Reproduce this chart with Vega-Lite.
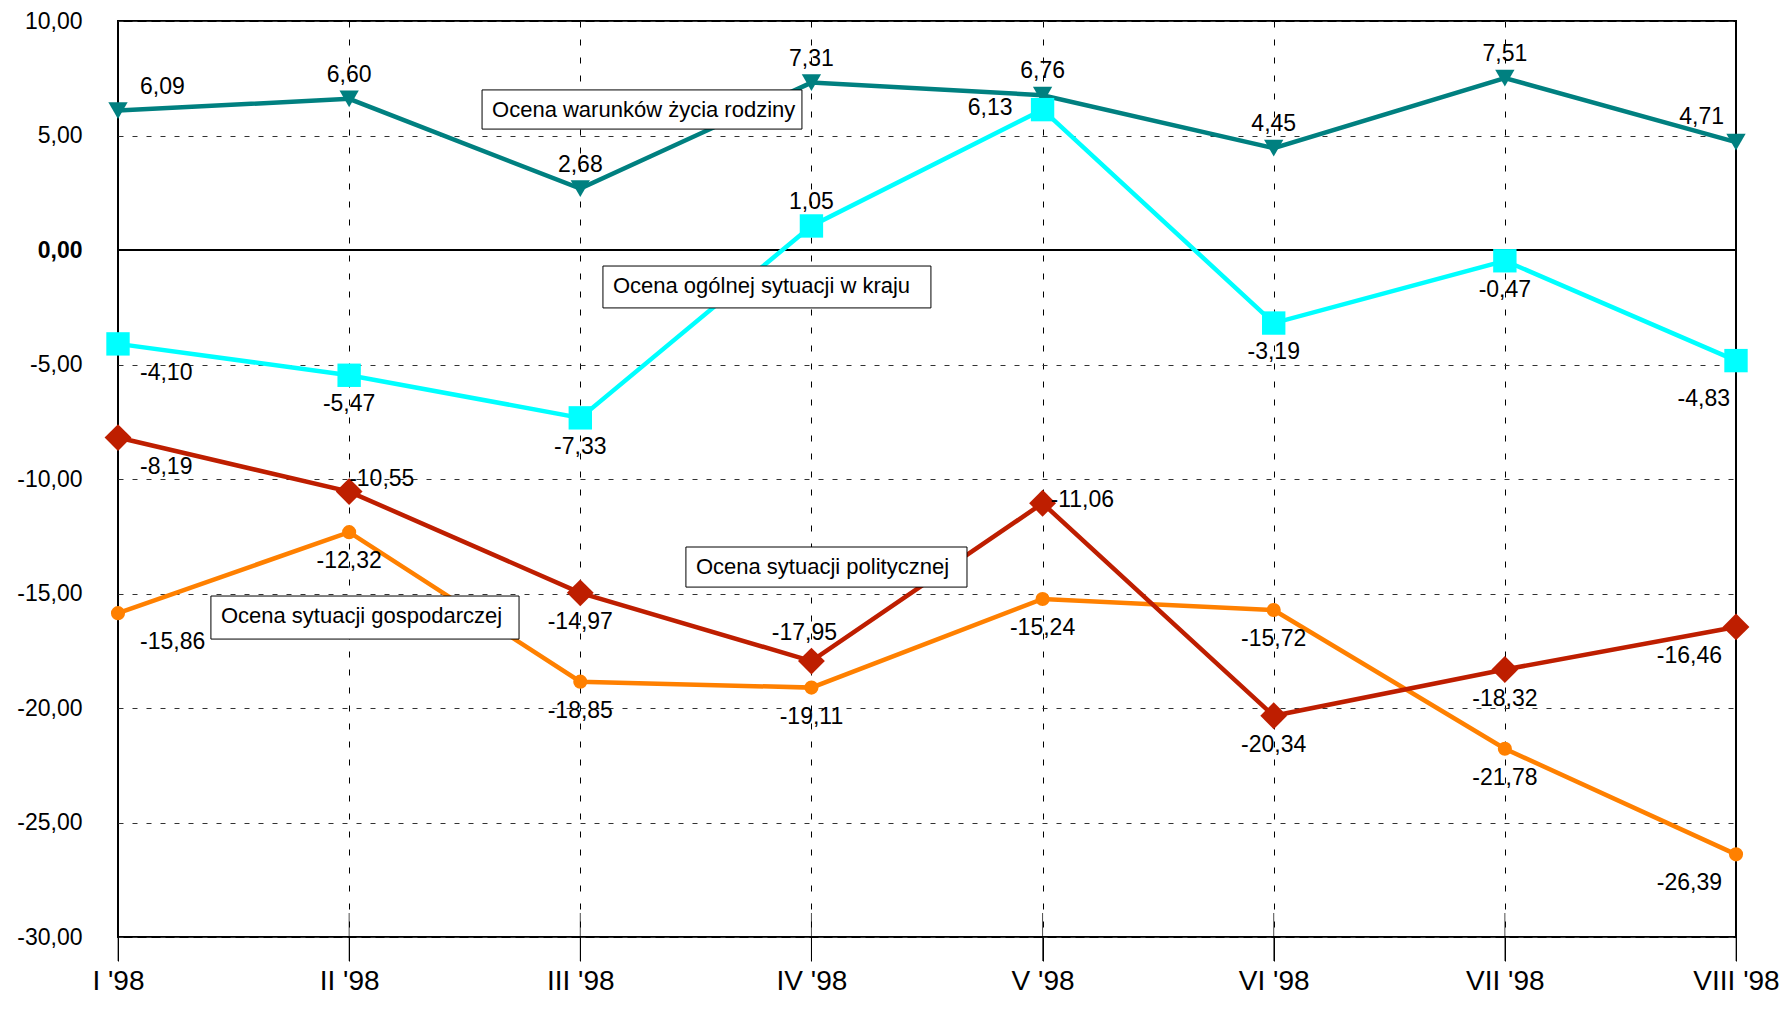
{
  "$schema": "https://vega.github.io/schema/vega-lite/v6.json",
  "width": 1618,
  "height": 916,
  "autosize": {"type": "none"},
  "padding": {"left": 118, "top": 21, "right": 51, "bottom": 77},
  "background": "white",
  "config": {
    "locale": {"number": {"decimal": ",", "thousands": " ", "grouping": [3], "currency": ["", ""], "minus": "-"}},
    "view": {"stroke": "black", "strokeWidth": 2},
    "font": "Liberation Sans",
    "scale": {"pointPadding": 0},
    "axis": {"labelFont": "Liberation Sans", "labelColor": "black"}
  },
  "datasets": {
    "dane": [
      {"seria": "Ocena sytuacji gospodarczej", "miesiac": "I '98", "wartosc": -15.86},
      {"seria": "Ocena sytuacji gospodarczej", "miesiac": "II '98", "wartosc": -12.32},
      {"seria": "Ocena sytuacji gospodarczej", "miesiac": "III '98", "wartosc": -18.85},
      {"seria": "Ocena sytuacji gospodarczej", "miesiac": "IV '98", "wartosc": -19.11},
      {"seria": "Ocena sytuacji gospodarczej", "miesiac": "V '98", "wartosc": -15.24},
      {"seria": "Ocena sytuacji gospodarczej", "miesiac": "VI '98", "wartosc": -15.72},
      {"seria": "Ocena sytuacji gospodarczej", "miesiac": "VII '98", "wartosc": -21.78},
      {"seria": "Ocena sytuacji gospodarczej", "miesiac": "VIII '98", "wartosc": -26.39},
      {"seria": "Ocena warunków życia rodziny", "miesiac": "I '98", "wartosc": 6.09},
      {"seria": "Ocena warunków życia rodziny", "miesiac": "II '98", "wartosc": 6.60},
      {"seria": "Ocena warunków życia rodziny", "miesiac": "III '98", "wartosc": 2.68},
      {"seria": "Ocena warunków życia rodziny", "miesiac": "IV '98", "wartosc": 7.31},
      {"seria": "Ocena warunków życia rodziny", "miesiac": "V '98", "wartosc": 6.76},
      {"seria": "Ocena warunków życia rodziny", "miesiac": "VI '98", "wartosc": 4.45},
      {"seria": "Ocena warunków życia rodziny", "miesiac": "VII '98", "wartosc": 7.51},
      {"seria": "Ocena warunków życia rodziny", "miesiac": "VIII '98", "wartosc": 4.71},
      {"seria": "Ocena ogólnej sytuacji w kraju", "miesiac": "I '98", "wartosc": -4.10},
      {"seria": "Ocena ogólnej sytuacji w kraju", "miesiac": "II '98", "wartosc": -5.47},
      {"seria": "Ocena ogólnej sytuacji w kraju", "miesiac": "III '98", "wartosc": -7.33},
      {"seria": "Ocena ogólnej sytuacji w kraju", "miesiac": "IV '98", "wartosc": 1.05},
      {"seria": "Ocena ogólnej sytuacji w kraju", "miesiac": "V '98", "wartosc": 6.13},
      {"seria": "Ocena ogólnej sytuacji w kraju", "miesiac": "VI '98", "wartosc": -3.19},
      {"seria": "Ocena ogólnej sytuacji w kraju", "miesiac": "VII '98", "wartosc": -0.47},
      {"seria": "Ocena ogólnej sytuacji w kraju", "miesiac": "VIII '98", "wartosc": -4.83},
      {"seria": "Ocena sytuacji politycznej", "miesiac": "I '98", "wartosc": -8.19},
      {"seria": "Ocena sytuacji politycznej", "miesiac": "II '98", "wartosc": -10.55},
      {"seria": "Ocena sytuacji politycznej", "miesiac": "III '98", "wartosc": -14.97},
      {"seria": "Ocena sytuacji politycznej", "miesiac": "IV '98", "wartosc": -17.95},
      {"seria": "Ocena sytuacji politycznej", "miesiac": "V '98", "wartosc": -11.06},
      {"seria": "Ocena sytuacji politycznej", "miesiac": "VI '98", "wartosc": -20.34},
      {"seria": "Ocena sytuacji politycznej", "miesiac": "VII '98", "wartosc": -18.32},
      {"seria": "Ocena sytuacji politycznej", "miesiac": "VIII '98", "wartosc": -16.46}
    ],
    "ramki": [
      {"tekst": "Ocena warunków życia rodziny", "x1": 1.575, "x2": 2.959, "y1": 6.99, "y2": 5.28},
      {"tekst": "Ocena ogólnej sytuacji w kraju", "x1": 2.098, "x2": 3.517, "y1": -0.70, "y2": -2.53},
      {"tekst": "Ocena sytuacji politycznej", "x1": 2.457, "x2": 3.673, "y1": -12.97, "y2": -14.72},
      {"tekst": "Ocena sytuacji gospodarczej", "x1": 0.402, "x2": 1.735, "y1": -15.11, "y2": -16.99}
    ]
  },
  "resolve": {"scale": {"x": "independent"}},
  "layer": [
    {
      "data": {"name": "dane"},
      "layer": [
        {
          "mark": {"type": "rule", "color": "black", "strokeWidth": 2},
          "encoding": {"y": {"datum": 0, "type": "quantitative"}}
        },
        {
          "mark": {"type": "line", "strokeWidth": 4.5},
          "encoding": {
            "x": {
              "field": "miesiac", "type": "ordinal", "title": null,
              "scale": {"type": "point", "domain": ["I '98", "II '98", "III '98", "IV '98", "V '98", "VI '98", "VII '98", "VIII '98"], "padding": 0},
              "axis": {"labelAngle": 0, "labelFontSize": 28, "labelPadding": 6, "tickSize": 24, "tickColor": "black", "tickWidth": 1, "domain": false, "grid": true, "gridColor": "black", "gridDash": [6, 12], "gridWidth": 1, "gridOpacity": 1}
            },
            "y": {
              "field": "wartosc", "type": "quantitative", "title": null,
              "scale": {"domain": [-30, 10], "nice": false, "zero": false},
              "axis": {"values": [-30, -25, -20, -15, -10, -5, 0, 5, 10], "format": ".2f", "labelFontSize": 23, "labelPadding": 36, "ticks": false, "domain": false, "grid": true, "gridColor": "#333333", "gridDash": [5, 9], "gridWidth": 1, "gridOpacity": 1, "labelFontWeight": {"condition": {"test": "datum.value == 0", "value": "bold"}, "value": "normal"}}
            },
            "color": {
              "field": "seria", "type": "nominal", "legend": null,
              "scale": {"domain": ["Ocena sytuacji gospodarczej", "Ocena warunków życia rodziny", "Ocena ogólnej sytuacji w kraju", "Ocena sytuacji politycznej"], "range": ["#FF8000", "#008080", "#00FFFF", "#BE1E00"]}
            }
          }
        },
        {
          "mark": {"type": "point", "filled": true, "opacity": 1},
          "encoding": {
            "x": {"field": "miesiac", "type": "ordinal"},
            "y": {"field": "wartosc", "type": "quantitative"},
            "color": {"field": "seria", "type": "nominal", "legend": null},
            "shape": {
              "field": "seria", "type": "nominal", "legend": null,
              "scale": {"domain": ["Ocena sytuacji gospodarczej", "Ocena warunków życia rodziny", "Ocena ogólnej sytuacji w kraju", "Ocena sytuacji politycznej"], "range": ["circle", "triangle-down", "square", "diamond"]}
            },
            "size": {
              "field": "seria", "type": "nominal", "legend": null,
              "scale": {"domain": ["Ocena sytuacji gospodarczej", "Ocena warunków życia rodziny", "Ocena ogólnej sytuacji w kraju", "Ocena sytuacji politycznej"], "range": [200, 720, 420, 560]}
            }
          }
        },
        {
          "transform": [{"filter": {"field": "seria", "equal": "Ocena warunków życia rodziny"}}],
          "mark": {"type": "tick", "orient": "vertical", "size": 48, "thickness": 1, "color": "black"},
          "encoding": {
            "x": {"field": "miesiac", "type": "ordinal"},
            "y": {"datum": -30, "type": "quantitative"}
          }
        },
        {
          "transform": [{"filter": {"or": [
            {"and": [{"field": "seria", "equal": "Ocena warunków życia rodziny"}, {"field": "miesiac", "oneOf": ["II '98", "III '98", "IV '98", "V '98", "VI '98", "VII '98"]}]},
            {"and": [{"field": "seria", "equal": "Ocena ogólnej sytuacji w kraju"}, {"field": "miesiac", "equal": "IV '98"}]}
          ]}}],
          "mark": {"type": "text", "align": "center", "baseline": "middle", "dy": -24, "fontSize": 23, "font": "Liberation Sans", "color": "black"},
          "encoding": {
            "x": {"field": "miesiac", "type": "ordinal"},
            "y": {"field": "wartosc", "type": "quantitative"},
            "text": {"field": "wartosc", "type": "quantitative", "format": ".2f"}
          }
        },
        {
          "transform": [{"filter": {"and": [{"field": "seria", "equal": "Ocena sytuacji politycznej"}, {"field": "miesiac", "equal": "IV '98"}]}}],
          "mark": {"type": "text", "align": "center", "baseline": "middle", "dx": -7, "dy": -28, "fontSize": 23, "font": "Liberation Sans", "color": "black"},
          "encoding": {
            "x": {"field": "miesiac", "type": "ordinal"},
            "y": {"field": "wartosc", "type": "quantitative"},
            "text": {"field": "wartosc", "type": "quantitative", "format": ".2f"}
          }
        },
        {
          "transform": [{"filter": {"or": [
            {"and": [{"field": "seria", "equal": "Ocena ogólnej sytuacji w kraju"}, {"field": "miesiac", "oneOf": ["II '98", "III '98", "VI '98", "VII '98"]}]},
            {"and": [{"field": "seria", "equal": "Ocena sytuacji politycznej"}, {"field": "miesiac", "oneOf": ["III '98", "VI '98", "VII '98"]}]},
            {"and": [{"field": "seria", "equal": "Ocena sytuacji gospodarczej"}, {"field": "miesiac", "oneOf": ["II '98", "III '98", "IV '98", "V '98", "VI '98", "VII '98"]}]}
          ]}}],
          "mark": {"type": "text", "align": "center", "baseline": "middle", "dy": 29, "fontSize": 23, "font": "Liberation Sans", "color": "black"},
          "encoding": {
            "x": {"field": "miesiac", "type": "ordinal"},
            "y": {"field": "wartosc", "type": "quantitative"},
            "text": {"field": "wartosc", "type": "quantitative", "format": ".2f"}
          }
        },
        {
          "transform": [{"filter": {"and": [{"field": "seria", "equal": "Ocena warunków życia rodziny"}, {"field": "miesiac", "equal": "I '98"}]}}],
          "mark": {"type": "text", "align": "left", "baseline": "middle", "dx": 22, "dy": -24, "fontSize": 23, "font": "Liberation Sans", "color": "black"},
          "encoding": {
            "x": {"field": "miesiac", "type": "ordinal"},
            "y": {"field": "wartosc", "type": "quantitative"},
            "text": {"field": "wartosc", "type": "quantitative", "format": ".2f"}
          }
        },
        {
          "transform": [{"filter": {"and": [{"field": "seria", "oneOf": ["Ocena ogólnej sytuacji w kraju", "Ocena sytuacji politycznej", "Ocena sytuacji gospodarczej"]}, {"field": "miesiac", "equal": "I '98"}]}}],
          "mark": {"type": "text", "align": "left", "baseline": "middle", "dx": 22, "dy": 29, "fontSize": 23, "font": "Liberation Sans", "color": "black"},
          "encoding": {
            "x": {"field": "miesiac", "type": "ordinal"},
            "y": {"field": "wartosc", "type": "quantitative"},
            "text": {"field": "wartosc", "type": "quantitative", "format": ".2f"}
          }
        },
        {
          "transform": [{"filter": {"and": [{"field": "seria", "equal": "Ocena warunków życia rodziny"}, {"field": "miesiac", "equal": "VIII '98"}]}}],
          "mark": {"type": "text", "align": "right", "baseline": "middle", "dx": -12, "dy": -25, "fontSize": 23, "font": "Liberation Sans", "color": "black"},
          "encoding": {
            "x": {"field": "miesiac", "type": "ordinal"},
            "y": {"field": "wartosc", "type": "quantitative"},
            "text": {"field": "wartosc", "type": "quantitative", "format": ".2f"}
          }
        },
        {
          "transform": [{"filter": {"and": [{"field": "seria", "oneOf": ["Ocena sytuacji politycznej", "Ocena sytuacji gospodarczej"]}, {"field": "miesiac", "equal": "VIII '98"}]}}],
          "mark": {"type": "text", "align": "right", "baseline": "middle", "dx": -14, "dy": 29, "fontSize": 23, "font": "Liberation Sans", "color": "black"},
          "encoding": {
            "x": {"field": "miesiac", "type": "ordinal"},
            "y": {"field": "wartosc", "type": "quantitative"},
            "text": {"field": "wartosc", "type": "quantitative", "format": ".2f"}
          }
        },
        {
          "transform": [{"filter": {"and": [{"field": "seria", "equal": "Ocena ogólnej sytuacji w kraju"}, {"field": "miesiac", "equal": "VIII '98"}]}}],
          "mark": {"type": "text", "align": "right", "baseline": "middle", "dx": -6, "dy": 38, "fontSize": 23, "font": "Liberation Sans", "color": "black"},
          "encoding": {
            "x": {"field": "miesiac", "type": "ordinal"},
            "y": {"field": "wartosc", "type": "quantitative"},
            "text": {"field": "wartosc", "type": "quantitative", "format": ".2f"}
          }
        },
        {
          "transform": [{"filter": {"and": [{"field": "seria", "equal": "Ocena sytuacji politycznej"}, {"field": "miesiac", "equal": "II '98"}]}}],
          "mark": {"type": "text", "align": "left", "baseline": "middle", "dx": 0, "dy": -13, "fontSize": 23, "font": "Liberation Sans", "color": "black"},
          "encoding": {
            "x": {"field": "miesiac", "type": "ordinal"},
            "y": {"field": "wartosc", "type": "quantitative"},
            "text": {"field": "wartosc", "type": "quantitative", "format": ".2f"}
          }
        },
        {
          "transform": [{"filter": {"and": [{"field": "seria", "equal": "Ocena sytuacji politycznej"}, {"field": "miesiac", "equal": "V '98"}]}}],
          "mark": {"type": "text", "align": "left", "baseline": "middle", "dx": 8, "dy": -3, "fontSize": 23, "font": "Liberation Sans", "color": "black"},
          "encoding": {
            "x": {"field": "miesiac", "type": "ordinal"},
            "y": {"field": "wartosc", "type": "quantitative"},
            "text": {"field": "wartosc", "type": "quantitative", "format": ".2f"}
          }
        },
        {
          "transform": [{"filter": {"and": [{"field": "seria", "equal": "Ocena ogólnej sytuacji w kraju"}, {"field": "miesiac", "equal": "V '98"}]}}],
          "mark": {"type": "text", "align": "right", "baseline": "middle", "dx": -30, "dy": -2, "fontSize": 23, "font": "Liberation Sans", "color": "black"},
          "encoding": {
            "x": {"field": "miesiac", "type": "ordinal"},
            "y": {"field": "wartosc", "type": "quantitative"},
            "text": {"field": "wartosc", "type": "quantitative", "format": ".2f"}
          }
        }
      ]
    },
    {
      "data": {"name": "ramki"},
      "layer": [
        {
          "mark": {"type": "rect", "fill": "white", "stroke": "black", "strokeWidth": 1},
          "encoding": {
            "x": {"field": "x1", "type": "quantitative", "scale": {"domain": [0, 7], "nice": false, "zero": false}, "axis": null},
            "x2": {"field": "x2"},
            "y": {"field": "y1", "type": "quantitative", "title": null},
            "y2": {"field": "y2"}
          }
        },
        {
          "mark": {"type": "text", "align": "left", "baseline": "middle", "dx": 10, "dy": 20, "fontSize": 22, "font": "Liberation Sans", "color": "black"},
          "encoding": {
            "x": {"field": "x1", "type": "quantitative", "scale": {"domain": [0, 7], "nice": false, "zero": false}, "axis": null},
            "y": {"field": "y1", "type": "quantitative", "title": null},
            "text": {"field": "tekst", "type": "nominal"}
          }
        }
      ]
    }
  ]
}
